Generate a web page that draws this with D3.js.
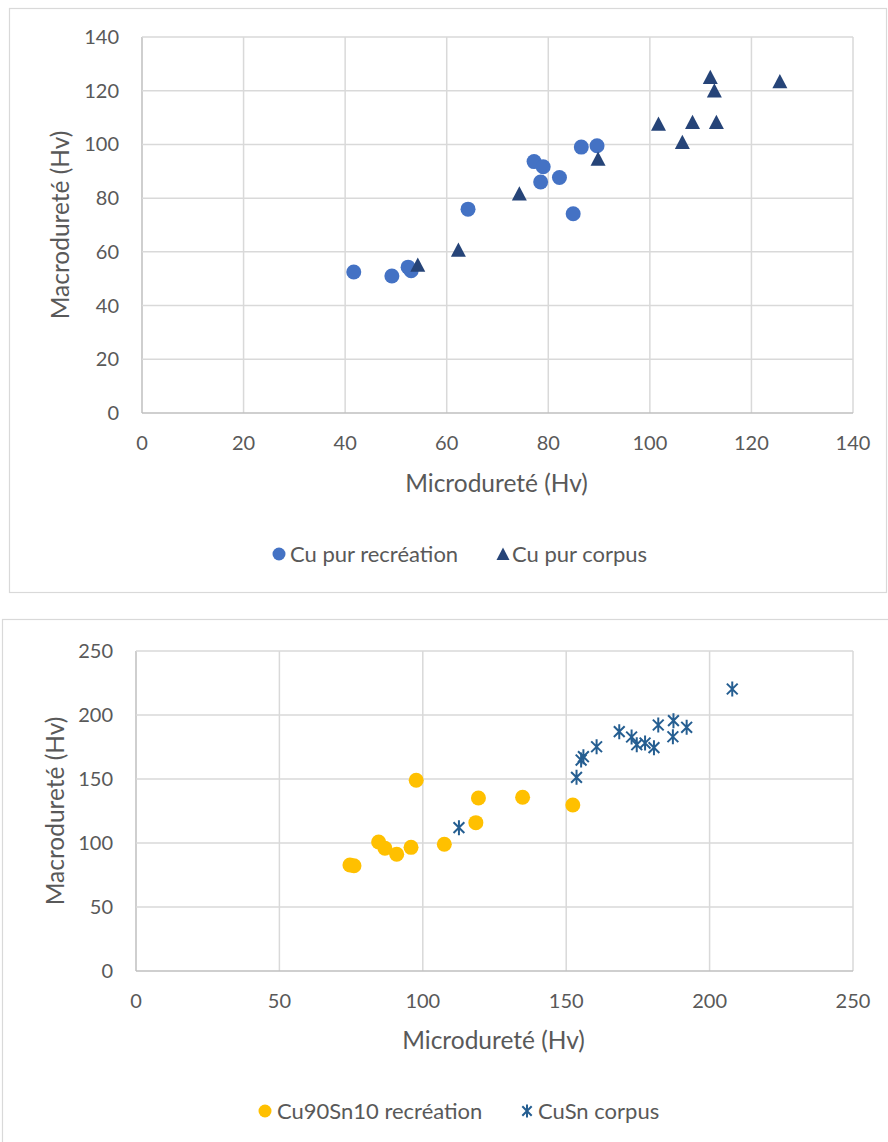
<!DOCTYPE html>
<html>
<head>
<meta charset="utf-8">
<script src="https://cdn.jsdelivr.net/npm/d3@7"></script>
<style>
  body { margin: 0; background: #fff; }
  text { font-family: Lato, "Noto Sans", sans-serif; fill: #595959; }
</style>
</head>
<body>
<div id="chart"></div>
<script>
// Top chart : pure copper
var cuRecreation = [
  [41.7, 52.5], [49.2, 51.0], [52.4, 54.3], [53.0, 53.0], [64.2, 75.9],
  [77.2, 93.6], [79.0, 91.7], [78.5, 86.0], [82.2, 87.7], [86.5, 99.0],
  [89.6, 99.5], [84.9, 74.2]
];
var cuCorpus = [
  [54.3, 54.7], [62.3, 60.3], [74.3, 81.2], [89.8, 94.2], [101.7, 107.2],
  [106.4, 100.4], [108.4, 107.9], [113.1, 107.9], [111.9, 124.6], [112.7, 119.6],
  [125.6, 123.0]
];
var topTicks = [0, 20, 40, 60, 80, 100, 120, 140];

// Bottom chart : bronze
var bronzeRecreation = [
  [74.6, 82.8], [76.0, 82.2], [84.6, 100.8], [86.8, 95.9], [90.9, 91.2],
  [95.9, 96.6], [97.7, 149.0], [107.5, 99.0], [118.5, 115.9], [119.4, 135.2],
  [134.8, 135.7], [152.3, 129.7]
];
var bronzeCorpus = [
  [112.6, 112.0], [153.6, 151.3], [155.2, 164.8], [156.0, 167.4], [160.6, 175.2],
  [168.5, 187.0], [172.8, 182.8], [174.6, 176.8], [177.5, 178.1], [180.6, 174.5],
  [182.1, 192.2], [187.4, 195.6], [187.2, 183.0], [192.0, 190.4], [207.9, 220.3]
];
var bottomTicks = [0, 50, 100, 150, 200, 250];

var svg = d3.select("#chart").append("svg")
  .attr("width", 888)
  .attr("height", 1142);

// chart frames
svg.append("rect").attr("x", 9.5).attr("y", 8.5).attr("width", 877).attr("height", 584)
  .attr("fill", "none").attr("stroke", "#d9d9d9").attr("stroke-width", 1.2);
svg.append("rect").attr("x", 2.5).attr("y", 619.5).attr("width", 890).attr("height", 540)
  .attr("fill", "none").attr("stroke", "#d9d9d9").attr("stroke-width", 1.2);

function drawPlot(cfg) {
  var x = d3.scaleLinear().domain([0, cfg.max]).range([cfg.left, cfg.right]);
  var y = d3.scaleLinear().domain([0, cfg.max]).range([cfg.bottom, cfg.top]);
  var g = svg.append("g");

  // grid
  g.selectAll(".vg").data(cfg.ticks).enter().append("line")
    .attr("x1", function(d) { return x(d); }).attr("x2", function(d) { return x(d); })
    .attr("y1", cfg.top).attr("y2", cfg.bottom)
    .attr("stroke", function(d) { return d === 0 ? "#bfbfbf" : "#d9d9d9"; })
    .attr("stroke-width", 1.5);
  g.selectAll(".hg").data(cfg.ticks).enter().append("line")
    .attr("y1", function(d) { return y(d); }).attr("y2", function(d) { return y(d); })
    .attr("x1", cfg.left).attr("x2", cfg.right)
    .attr("stroke", function(d) { return d === 0 ? "#bfbfbf" : "#d9d9d9"; })
    .attr("stroke-width", 1.5);

  // tick labels
  g.selectAll(".yl").data(cfg.ticks).enter().append("text")
    .attr("x", cfg.left - 23).attr("y", function(d) { return y(d); })
    .attr("dy", "0.35em").attr("text-anchor", "end")
    .style("font-size", "20px").text(function(d) { return d; });
  g.selectAll(".xl").data(cfg.ticks).enter().append("text")
    .attr("x", function(d) { return x(d); }).attr("y", cfg.bottom + 30)
    .attr("dy", "0.35em").attr("text-anchor", "middle")
    .style("font-size", "20px").text(function(d) { return d; });

  // axis titles
  g.append("text").attr("x", (cfg.left + cfg.right) / 2 - 1).attr("y", cfg.bottom + cfg.xtitleDy)
    .attr("dy", "0.35em").attr("text-anchor", "middle").style("font-size", "24.5px").text("Microdureté (Hv)");
  g.append("text")
    .attr("transform", "translate(" + cfg.ytitleX + "," + (cfg.top + cfg.bottom) / 2 + ") rotate(-90)")
    .attr("dy", "0.35em").attr("text-anchor", "middle")
    .style("font-size", "24.5px").text("Macrodureté (Hv)");

  return { x: x, y: y, g: g };
}

function triPath(s) {
  var h = s * 0.95;
  return "M0," + (-h * 0.6) + "L" + (s / 2) + "," + (h * 0.4) + "L" + (-s / 2) + "," + (h * 0.4) + "Z";
}
function starPath(s) {
  var r = s / 2, d = r * 0.72;
  return "M0," + (-r) + "L0," + r +
    "M" + (-d) + "," + (-d) + "L" + d + "," + d +
    "M" + d + "," + (-d) + "L" + (-d) + "," + d;
}

// ---- top chart
var top1 = drawPlot({ max: 140, ticks: topTicks, left: 142, right: 853, top: 37, bottom: 413, ytitleX: 60, xtitleDy: 70 });
top1.g.selectAll(".c1").data(cuRecreation).enter().append("circle")
  .attr("cx", function(d) { return top1.x(d[0]); })
  .attr("cy", function(d) { return top1.y(d[1]); })
  .attr("r", 7.5).attr("fill", "#4472c4");
top1.g.selectAll(".t1").data(cuCorpus).enter().append("path")
  .attr("transform", function(d) { return "translate(" + top1.x(d[0]) + "," + top1.y(d[1]) + ")"; })
  .attr("d", triPath(15)).attr("fill", "#264478");

// legend
var lg1 = svg.append("g");
lg1.append("circle").attr("cx", 279).attr("cy", 554).attr("r", 6.5).attr("fill", "#4472c4");
lg1.append("text").attr("x", 290).attr("y", 554).attr("dy", "0.35em").style("font-size", "22px").text("Cu pur recréation");
lg1.append("path").attr("transform", "translate(503,555)").attr("d", triPath(13)).attr("fill", "#264478");
lg1.append("text").attr("x", 512).attr("y", 554).attr("dy", "0.35em").style("font-size", "22px").text("Cu pur corpus");

// ---- bottom chart
var bot = drawPlot({ max: 250, ticks: bottomTicks, left: 136, right: 853, top: 651, bottom: 971, ytitleX: 55, xtitleDy: 69 });
bot.g.selectAll(".c2").data(bronzeRecreation).enter().append("circle")
  .attr("cx", function(d) { return bot.x(d[0]); })
  .attr("cy", function(d) { return bot.y(d[1]); })
  .attr("r", 7.5).attr("fill", "#ffc000");
bot.g.selectAll(".s2").data(bronzeCorpus).enter().append("path")
  .attr("transform", function(d) { return "translate(" + bot.x(d[0]) + "," + bot.y(d[1]) + ")"; })
  .attr("d", starPath(15)).attr("fill", "none")
  .attr("stroke", "#255e91").attr("stroke-width", 2);

var lg2 = svg.append("g");
lg2.append("circle").attr("cx", 265).attr("cy", 1111).attr("r", 6.5).attr("fill", "#ffc000");
lg2.append("text").attr("x", 277).attr("y", 1111).attr("dy", "0.35em").style("font-size", "22px").text("Cu90Sn10 recréation");
lg2.append("path").attr("transform", "translate(527,1111)").attr("d", starPath(13))
  .attr("fill", "none").attr("stroke", "#255e91").attr("stroke-width", 2);
lg2.append("text").attr("x", 538).attr("y", 1111).attr("dy", "0.35em").style("font-size", "22px").text("CuSn corpus");
</script>
</body>
</html>
